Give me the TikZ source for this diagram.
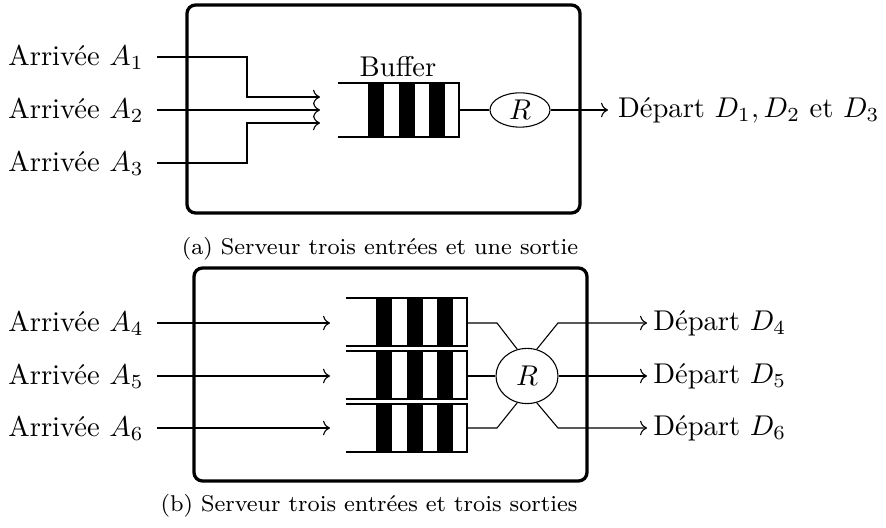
\documentclass[tikz,border=0pt]{standalone}
\usepackage{amsmath}
\usepackage{tikz}
\usetikzlibrary{arrows.meta,shapes.geometric}

% file d'attente : ouverte a gauche, trois paquets en noir
\newcommand{\tampon}[3]{%
  \draw (#1,#2) -- (#1+121,#2) -- (#1+121,#3) -- (#1,#3);
  \foreach \p in {30,61,91}
    \fill (#1+\p,#2) rectangle (#1+\p+16,#3);
}

\begin{document}
\begin{tikzpicture}[x=0.35pt,y=-0.35pt,>=To,line width=0.38pt,
    boite/.style={line width=1.15pt,rounded corners=3pt},
    serveur/.style={draw,ellipse,inner sep=0pt},
    entree/.style={anchor=east,inner xsep=4.5pt},
    sortie/.style={anchor=west}]
  \useasboundingbox (0,0) rectangle (886,528);

  % (a) trois arrivees, une file
  \draw[boite] (187,5) rectangle (580,213);
  \node[entree] (a1) at (157,57) {Arrivée $A_1$};
  \node[entree] (a2) at (157,110) {Arrivée $A_2$};
  \node[entree] (a3) at (157,163) {Arrivée $A_3$};
  \coordinate (e1) at (320,97);
  \coordinate (e2) at (320,110);
  \coordinate (e3) at (320,123);
  \draw[->] (a1.east) -- (247,57) |- (e1);
  \draw[->] (a2.east) -- (e2);
  \draw[->] (a3.east) -- (247,163) |- (e3);
  \tampon{338}{83}{137}
  \node (buf) at (398,67) {Buffer};
  \node[serveur,minimum width=21pt,minimum height=12pt] (r1) at (520,110) {$R$};
  \node[sortie] (d1) at (608,110) {Départ $D_1, D_2$ et $D_3$};
  \draw (459,110) -- (r1.west);
  \draw[->] (r1.east) -- (d1.west);
  \node[font=\footnotesize] (capa) at (380,249) {(a) Serveur trois entrées et une sortie};

  % (b) trois files, trois departs
  \draw[boite] (194,268) rectangle (587,481);
  \foreach \i/\y in {4/323,5/376,6/428} {
    \node[entree] (a\i) at (157,\y) {Arrivée $A_{\i}$};
    \coordinate (e\i) at (330,\y);
    \draw[->] (a\i.east) -- (e\i);
    \node[sortie,inner xsep=2pt] (d\i) at (647,\y) {Départ $D_{\i}$};
  }
  \tampon{346}{298}{346}
  \tampon{346}{351}{399}
  \tampon{346}{404}{452}
  \node[serveur,minimum width=21.7pt,minimum height=19.3pt] (r2) at (527,376) {$R$};
  \draw (467,323) -- (497,323) -- (r2.110);
  \draw (467,376) -- (r2.west);
  \draw (467,428) -- (497,428) -- (r2.250);
  \draw[->] (r2.70) -- (558,323) -- (d4.west);
  \draw[->] (r2.east) -- (d5.west);
  \draw[->] (r2.290) -- (558,428) -- (d6.west);
  \node[font=\footnotesize] (capb) at (369,506) {(b) Serveur trois entrées et trois sorties};
\end{tikzpicture}
\end{document}
